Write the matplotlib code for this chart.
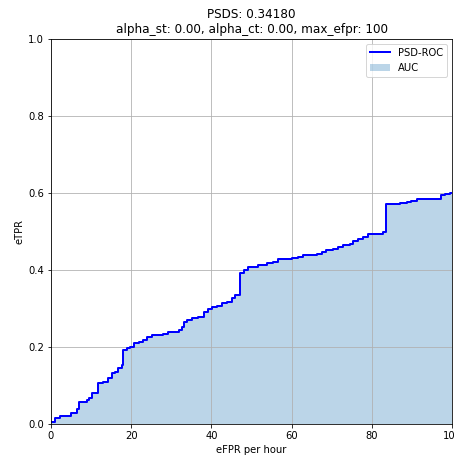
import numpy as np
import matplotlib
matplotlib.use("Agg")
import matplotlib.pyplot as plt

# PSD-ROC operating points (eFPR per hour, eTPR)
efpr = [0.0, 1.0, 2.2, 3.9, 5.1, 6.4, 7.1, 8.9, 9.5, 10.1, 11.4, 11.6, 13.0, 14.3,
        15.1, 15.9, 16.8, 17.6, 18.0, 18.9, 19.7, 20.8, 22.0, 23.0, 23.9, 25.1,
        28.0, 29.3, 31.8, 32.6, 33.2, 33.8, 35.1, 36.7, 38.1, 39.2, 40.1, 41.3,
        42.6, 43.8, 45.1, 45.9, 47.1, 48.1, 49.2, 51.7, 53.8, 55.4, 56.7, 60.0,
        61.7, 62.9, 66.3, 67.5, 68.7, 70.4, 71.6, 72.9, 74.6, 75.4, 76.6, 77.9,
        79.1, 82.9, 83.5, 87.0, 88.7, 89.9, 91.2, 97.2, 98.3, 99.5, 100.0]
etpr = [0.005, 0.015, 0.020, 0.022, 0.028, 0.038, 0.058, 0.062, 0.067, 0.080,
        0.081, 0.107, 0.110, 0.119, 0.132, 0.136, 0.145, 0.153, 0.192, 0.197,
        0.201, 0.210, 0.214, 0.218, 0.227, 0.231, 0.235, 0.240, 0.244, 0.253,
        0.266, 0.270, 0.275, 0.277, 0.292, 0.298, 0.303, 0.307, 0.313, 0.318,
        0.326, 0.335, 0.391, 0.400, 0.407, 0.413, 0.417, 0.421, 0.428, 0.430,
        0.433, 0.439, 0.441, 0.448, 0.452, 0.455, 0.461, 0.465, 0.468, 0.475,
        0.481, 0.487, 0.494, 0.498, 0.571, 0.573, 0.576, 0.579, 0.584, 0.595,
        0.597, 0.601, 0.601]

psds = 0.34180
alpha_st = 0.0
alpha_ct = 0.0
max_efpr = 100

fig = plt.figure(figsize=(454 / 72, 457 / 72), dpi=72)
ax = fig.add_axes([51 / 454, 33 / 457, 401 / 454, 385 / 457])

ax.step(efpr, etpr, where="post", color="b", linewidth=2, label="PSD-ROC")
ax.fill_between(efpr, y1=etpr, y2=0, step="post", alpha=0.3, label="AUC")
ax.axvline(max_efpr, linestyle="--", linewidth=1)

ax.set_xlim(0, max_efpr)
ax.set_ylim(0, 1.0)
ax.set_xlabel("eFPR per hour")
ax.set_ylabel("eTPR")
ax.set_title(f"PSDS: {psds:.5f}\n"
             f"alpha_st: {alpha_st:.2f}, alpha_ct: {alpha_ct:.2f}, max_efpr: {max_efpr}")
ax.grid()
ax.legend(loc="upper right")

fig.savefig("out.png", dpi=72)
